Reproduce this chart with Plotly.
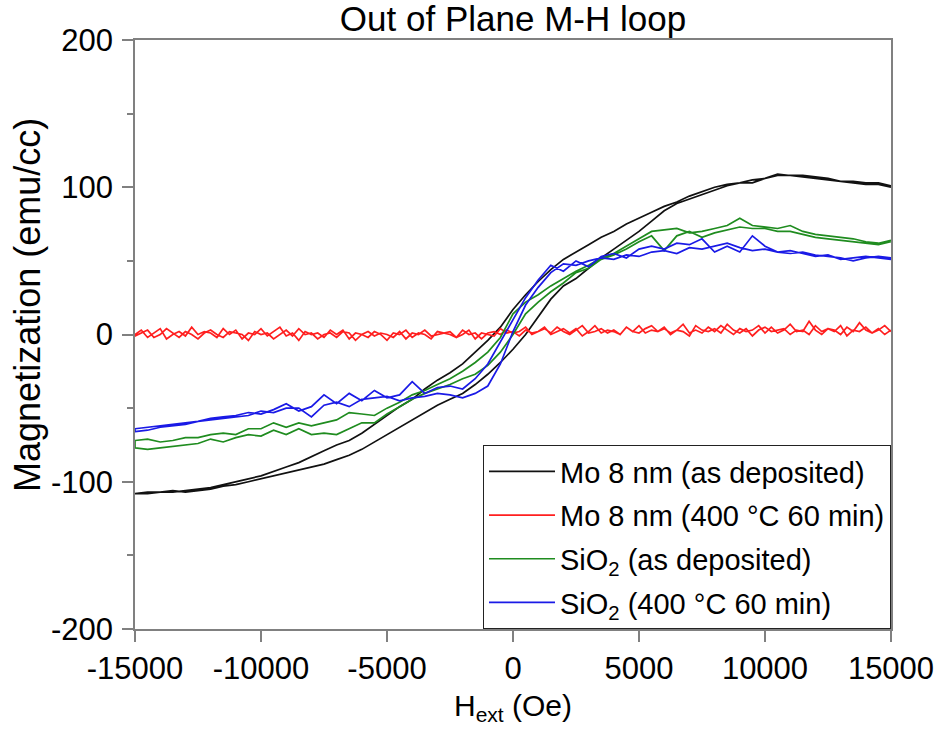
import plotly.graph_objects as go

# ---------------- data ----------------
H_COARSE = list(range(-15000, 15001, 500))   # field sweep, 61 steps (Oe)
H_FINE = list(range(-15000, 15001, 250))     # field sweep, 121 steps (Oe)

series_names = [
    "Mo 8 nm (as deposited)",
    "Mo 8 nm (400 °C 60 min)",
    "SiO<sub>2</sub> (as deposited)",
    "SiO<sub>2</sub> (400 °C 60 min)",
]
series_colors = ["#111111", "#ff1f1f", "#1f8c1f", "#1a1ae6"]

# Mo 8 nm as deposited (black): descending branch (upper), ascending branch (lower)
mo_dep_down = [-108, -108, -107, -107, -106, -105, -104, -102, -100, -98,
               -96, -93, -90, -87, -83, -79, -75, -72, -67, -61,
               -55, -49, -44, -37, -31, -26, -20, -12, -4, 5,
               17, 27, 36, 44, 51, 56, 61, 66, 70, 75,
               79, 83, 87, 90, 94, 97, 100, 102, 103, 105,
               106, 109, 108, 108, 107, 106, 104, 104, 103, 103,
               101]
mo_dep_up = [-108, -107, -107, -106, -107, -106, -105, -103, -102, -100,
             -98, -96, -94, -92, -90, -88, -85, -82, -78, -73,
             -68, -63, -58, -53, -48, -44, -40, -34, -27, -19,
             -10, 0, 12, 24, 33, 38, 45, 52, 58, 64,
             70, 77, 84, 89, 92, 95, 98, 101, 103, 103,
             106, 108, 108, 107, 106, 105, 104, 103, 102, 102,
             100]

# Mo 8 nm annealed (red): nearly zero, noisy
mo_ann_down = [0, 3, -2, 1, 4, -3, 0, 2, -1, 5, 0, 2, 1, -2, 4, 0, 3, -3, 1, 0,
               4, -1, 2, 5, -1, 1, -4, 2, 0, 1, -2, 3, 0, 3, -3, 1, 0, -2, 2, 0,
               -4, 1, 0, 3, -2, 1, 0, -3, 2, 1, 0, -2, 3, 0, 1, -3, 1, 2, 0, 3,
               1, 2, 5, 0, 2, 4, 1, 5, 2, 0, 3, 6, 1, 2, 4, 1, 3, 0, 5, 2,
               6, 1, 3, 2, 5, 0, 3, 7, 1, 3, 1, 5, 2, 6, 3, 0, 4, 2, 3, 6,
               1, 5, 1, 3, 7, 2, 3, 0, 6, 2, 4, 3, 0, 5, 2, 8, 3, 1, 4, 0, 3]
mo_ann_up = [-1, 1, 3, -2, 0, 4, 1, -2, 2, 0, -3, 1, 3, 0, -2, 2, 1, 0, -4, 2,
             0, 1, -3, 0, 3, -1, 4, 0, 1, -3, 0, 1, -2, 2, 1, -4, 0, 2, -1, 1,
             0, -2, 2, -3, 1, 0, 3, -1, 0, 1, 2, -2, 0, 3, -3, 1, 0, -1, 4, 1,
             2, -1, 3, 1, 2, 5, 0, 2, 4, 1, 4, -1, 2, 6, 1, 3, 2, 0, 5, 2,
             1, 4, 6, 2, 4, 1, 3, 2, -1, 6, 3, 2, 4, 1, 7, 3, 1, 4, -1, 3,
             5, 2, 3, 4, 0, 3, 2, 9, 3, 0, 4, 2, 6, -1, 3, 2, 5, 1, 3, 6, 2]

# SiO2 as deposited (green)
sio_dep_down = [-72, -71, -73, -72, -70, -70, -68, -67, -68, -64,
                -64, -60, -63, -60, -62, -60, -58, -53, -54, -55,
                -50, -46, -41, -38, -34, -30, -25, -19, -12, -2,
                14, 22, 27, 33, 38, 43, 47, 52, 55, 60,
                65, 70, 71, 72, 69, 70, 72, 74, 79, 74,
                73, 72, 74, 70, 68, 67, 66, 65, 63, 62,
                64]
sio_dep_up = [-77, -78, -77, -76, -75, -74, -71, -73, -70, -68,
              -69, -65, -68, -64, -68, -67, -68, -64, -60, -60,
              -54, -49, -44, -40, -37, -34, -30, -27, -21, -12,
              0, 14, 22, 29, 35, 42, 45, 51, 54, 58,
              63, 67, 57, 67, 70, 66, 69, 71, 73, 72,
              72, 70, 70, 68, 66, 65, 64, 63, 62, 61,
              63]

# SiO2 annealed (blue)
sio_ann_down = [-64, -63, -62, -61, -60, -59, -57, -56, -55, -53,
                -54, -51, -47, -52, -49, -41, -47, -40, -45, -38,
                -43, -41, -32, -40, -36, -35, -37, -30, -20, -5,
                10, 25, 37, 47, 43, 50, 46, 53, 55, 52,
                58, 60, 58, 62, 61, 65, 56, 60, 56, 67,
                60, 56, 57, 55, 53, 54, 51, 52, 53, 52,
                51]
sio_ann_up = [-66, -65, -63, -62, -61, -59, -58, -57, -56, -55,
              -52, -53, -50, -50, -56, -48, -46, -49, -44, -43,
              -42, -45, -43, -42, -40, -41, -43, -40, -35, -20,
              2, 20, 32, 42, 48, 47, 50, 52, 51, 54,
              53, 56, 57, 55, 59, 58, 60, 62, 59, 57,
              58, 56, 55, 56, 54, 53, 52, 50, 52, 53,
              52]

x_tick_vals = [-15000, -10000, -5000, 0, 5000, 10000, 15000]
x_tick_text = ["-15000", "-10000", "-5000", "0", "5000", "10000", "15000"]
y_tick_vals = [-200, -100, 0, 100, 200]
y_tick_text = ["-200", "-100", "0", "100", "200"]

chart_title = "Out of Plane M-H loop"
x_title = "H<sub>ext</sub> (Oe)"
y_title = "Magnetization (emu/cc)"

# ---------------- figure ----------------
FONT = "Liberation Sans, Arial, Helvetica, sans-serif"
AXIS_GRAY = "#808080"

branches = [
    (H_COARSE, mo_dep_down, mo_dep_up),
    (H_FINE, mo_ann_down, mo_ann_up),
    (H_COARSE, sio_dep_down, sio_dep_up),
    (H_COARSE, sio_ann_down, sio_ann_up),
]

fig = go.Figure()
for i, ((h, down, up), name, color) in enumerate(zip(branches, series_names, series_colors)):
    # full loop: sweep down from +H to -H, then back up
    xs = list(reversed(h)) + list(h)
    ys = list(reversed(down)) + list(up)
    fig.add_trace(go.Scatter(
        x=xs, y=ys, mode="lines", name=name,
        line=dict(color=color, width=1.7),
        legendgroup=f"g{i}",
    ))

fig.update_layout(
    width=935, height=739,
    margin=dict(l=135, r=44, t=40, b=110, autoexpand=False),
    paper_bgcolor="white", plot_bgcolor="white",
    font=dict(family=FONT, size=30, color="black"),
    title=dict(text=chart_title, x=0.5, xref="paper", xanchor="center",
               y=0.974, yref="container", yanchor="middle",
               font=dict(size=35, color="black", family=FONT)),
    showlegend=True,
    legend=dict(x=1, xanchor="right", y=0, yanchor="bottom",
                bgcolor="white", bordercolor="#222222", borderwidth=1,
                font=dict(size=29, family=FONT, color="black"),
                tracegroupgap=3, itemwidth=66),
    xaxis=dict(range=[-15000, 15000], tickvals=x_tick_vals, ticktext=x_tick_text,
               ticks="outside", ticklen=11, tickwidth=1.5, tickcolor=AXIS_GRAY,
               showline=True, linecolor=AXIS_GRAY, linewidth=1.6, mirror=True,
               showgrid=False, zeroline=False, ticklabelstandoff=0, automargin=False,
               tickfont=dict(size=31),
               title=dict(text=x_title, font=dict(size=30), standoff=10)),
    yaxis=dict(range=[-200, 200], tickvals=y_tick_vals, ticktext=y_tick_text,
               ticks="outside", ticklen=11, tickwidth=1.5, tickcolor=AXIS_GRAY,
               minor=dict(dtick=50, ticks="outside", ticklen=6, tickwidth=1.5, tickcolor=AXIS_GRAY),
               showline=True, linecolor=AXIS_GRAY, linewidth=1.6, mirror=True,
               showgrid=False, zeroline=False, ticklabelstandoff=3, automargin=False,
               tickfont=dict(size=31)),
    annotations=[dict(text=y_title, textangle=-90, xref="paper", yref="paper",
                      x=-0.143, y=0.55, xanchor="center", yanchor="middle",
                      showarrow=False, font=dict(size=36, family=FONT, color="black"))],
)

fig.write_html("out.html")
